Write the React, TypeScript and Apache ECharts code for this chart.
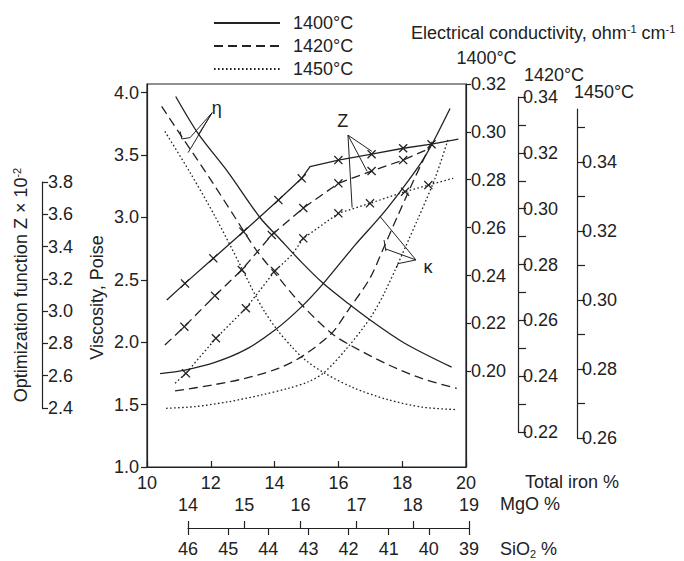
import React, { useEffect, useRef } from 'react';
import * as echarts from 'echarts';

// ---------- data ----------
// Viscosity eta (Poise) vs total iron %
const eta1400 = [[10.9, 3.97], [11.61, 3.67], [12.55, 3.36], [13.54, 3.0], [14.12, 2.84], [14.85, 2.64], [15.53, 2.47], [16.31, 2.31], [17.04, 2.17], [18.09, 1.99], [19.55, 1.8]];
const eta1420 = [[10.46, 3.89], [11.19, 3.61], [12.03, 3.29], [12.76, 3.0], [13.42, 2.74], [14.12, 2.52], [14.85, 2.3], [15.79, 2.07], [16.42, 1.97], [17.56, 1.82], [18.61, 1.71], [19.71, 1.63]];
const eta1450 = [[10.56, 3.69], [11.35, 3.36], [12.13, 3.01], [12.92, 2.62], [13.39, 2.38], [13.7, 2.24], [14.11, 2.09], [14.55, 1.96], [14.95, 1.86], [15.58, 1.75], [16.52, 1.63], [17.55, 1.54], [18.62, 1.48], [19.72, 1.46]];

// Electrical conductivity kappa (ohm^-1 cm^-1), each on its own temperature scale
const kappa1400 = [[10.41, 0.199], [11.19, 0.2005], [12.13, 0.2037], [13.07, 0.2089], [14.01, 0.2172], [14.85, 0.227], [15.53, 0.2367], [16.52, 0.2527], [17.36, 0.2653], [18.09, 0.2778], [18.61, 0.2875], [18.92, 0.2945], [19.5, 0.3098]];
const kappa1420 = [[10.88, 0.2347], [12.03, 0.2368], [13.07, 0.2392], [14.12, 0.2428], [14.85, 0.247], [15.79, 0.2554], [16.31, 0.2637], [16.99, 0.2751], [17.43, 0.2863], [17.87, 0.2977], [18.31, 0.3089], [18.75, 0.3196], [19.0, 0.3253]];
const kappa1450 = [[10.6, 0.2686], [11.5, 0.2691], [12.55, 0.2705], [13.6, 0.2725], [14.43, 0.2744], [15.06, 0.2763], [15.58, 0.2792], [16.31, 0.2865], [16.99, 0.2947], [17.46, 0.3024], [18.5, 0.3237], [19.03, 0.3353], [19.45, 0.3469]];

// Optimization function Z x 10^-2 : [iron %, Z, measured point (1) or not (0)]
const z1400 = [[10.62, 3.069, 0], [11.19, 3.172, 1], [12.08, 3.327, 1], [13.02, 3.492, 1], [14.12, 3.688, 1], [14.85, 3.823, 1], [15.11, 3.895, 0], [16.0, 3.936, 1], [17.04, 3.972, 1], [18.03, 4.009, 1], [18.92, 4.034, 1], [19.76, 4.065, 0]];
const z1420 = [[10.56, 2.79, 0], [11.17, 2.904, 1], [12.13, 3.096, 1], [12.97, 3.255, 1], [13.91, 3.472, 1], [14.9, 3.639, 1], [16.0, 3.792, 1], [17.04, 3.868, 1], [18.03, 3.936, 1], [18.81, 4.004, 0]];
const z1450 = [[10.88, 2.553, 0], [11.22, 2.615, 1], [12.16, 2.832, 1], [13.1, 3.018, 1], [14.01, 3.249, 1], [14.54, 3.348, 0], [14.9, 3.451, 1], [16.0, 3.606, 1], [16.99, 3.668, 1], [18.09, 3.74, 1], [18.82, 3.781, 1], [19.6, 3.823, 0]];

// Tick values / labels
const temps = ['1400°C', '1420°C', '1450°C'];
const ironTicks = [10, 12, 14, 16, 18, 20];
const mgoTicks = [14, 15, 16, 17, 18, 19];
const sio2Ticks = [46, 45, 44, 43, 42, 41, 40, 39];
const viscosityTicks = [1.0, 1.5, 2.0, 2.5, 3.0, 3.5, 4.0];
const zTicks = [2.4, 2.6, 2.8, 3.0, 3.2, 3.4, 3.6, 3.8];
const k1400Ticks = [0.2, 0.22, 0.24, 0.26, 0.28, 0.3, 0.32];
const k1420Ticks = [0.22, 0.23, 0.24, 0.25, 0.26, 0.27, 0.28, 0.29, 0.3, 0.31, 0.32, 0.33, 0.34];
const k1420Labels = [0.22, 0.24, 0.26, 0.28, 0.3, 0.32, 0.34];
const k1450Ticks = [0.26, 0.27, 0.28, 0.29, 0.3, 0.31, 0.32, 0.33, 0.34, 0.35];
const k1450Labels = [0.26, 0.28, 0.3, 0.32, 0.34];

// Annotation anchors in (iron %, viscosity) data coordinates
const etaLabel = [12.19, 3.88];
const etaApex = [12.04, 3.84];
const etaEnds = [[11.6, 3.66], [11.35, 3.64], [11.29, 3.52]];
const etaHook = [[11.04, 3.69], [11.09, 3.63], [11.35, 3.64]];
const zLabel = [16.14, 3.77];
const zApex = [16.3, 3.66];
const zEnds = [[17.05, 3.53], [16.9, 3.37], [16.43, 3.08]];
const kLabel = [18.81, 2.6];
const kApex = [18.43, 2.66];
const kEnds = [[17.3, 3.01], [17.46, 2.75], [17.87, 2.63]];
const kTick1 = [[17.43, 2.82], [17.49, 2.73]];
const kTick2 = [[17.87, 2.63], [17.82, 2.595]];

// ---------- styling ----------
const INK = '#222';
const FONT = "'Liberation Sans', Arial, Helvetica, sans-serif";
const FS = 18;
const XSYM = 'path://M0,1L1,0L5,4L9,0L10,1L6,5L10,9L9,10L5,6L1,10L0,9L4,5Z';
const dashStyles: any[] = ['solid', [9, 5], [1.6, 2.4]];

const lbl = (extra: any = {}) => ({ color: INK, fontFamily: FONT, fontSize: FS, ...extra });
const axLine = { show: true, lineStyle: { color: INK, width: 1.2 } };

// main grid pixel frame
const G = { left: 147, top: 84, width: 319, height: 383 };
// visible side scales (pixel frames)
const G1420 = { top: 97, height: 335, x: 519 };
const G1450 = { top: 109, height: 329, x: 578 };
const GZ = { top: 182, height: 226, x: 43 };

// hidden data-axis extents matched to the visible side scales
const k1420PerPx = (0.34 - 0.22) / G1420.height;
const k1420Max = 0.34 + (G1420.top - G.top) * k1420PerPx;
const k1420Min = 0.22 - (G.top + G.height - (G1420.top + G1420.height)) * k1420PerPx;
const k1450PerPx = (0.34 - 0.26) / (G1450.top + G1450.height - 162);
const k1450Max = 0.26 + (G1450.top + G1450.height - G.top) * k1450PerPx;
const k1450Min = 0.26 - (G.top + G.height - (G1450.top + G1450.height)) * k1450PerPx;
const k1450VisMax = 0.26 + G1450.height * k1450PerPx;
const zPerPx = (3.8 - 2.4) / GZ.height;
const zMax = 3.8 + (GZ.top - G.top) * zPerPx;
const zMin = 2.4 - (G.top + G.height - (GZ.top + GZ.height)) * zPerPx;

function lineSeries(name: string, idx: number, data: number[][], yAxisIndex: number) {
  return {
    type: 'line', name, xAxisIndex: 0, yAxisIndex, silent: true,
    data, smooth: 0.3,
    symbol: 'none', showSymbol: false,
    lineStyle: { color: INK, width: 1.3, type: dashStyles[idx] },
    itemStyle: { color: INK }, emphasis: { disabled: true },
  };
}
function zSeries(name: string, idx: number, data: number[][]) {
  return {
    type: 'line', name, xAxisIndex: 0, yAxisIndex: 4, silent: true,
    data: data.map(([x, y, m]) => ({ value: [x, y], symbol: m ? XSYM : 'none', symbolSize: 9 })),
    showSymbol: true, smooth: false,
    lineStyle: { color: INK, width: 1.3, type: dashStyles[idx] },
    itemStyle: { color: INK }, emphasis: { disabled: true },
  };
}

export default function App() {
  const ref = useRef<HTMLDivElement>(null);
  useEffect(() => {
    document.body.style.margin = '0';
    const chart = echarts.init(ref.current!, null, { renderer: 'svg' });
    const option: any = {
      animation: false,
      backgroundColor: '#fff',
      textStyle: { fontFamily: FONT },
      title: {
        text: '{a|Electrical conductivity, ohm}{s|-1}{a| cm}{s|-1}',
        left: 411, top: 23, padding: 0,
        textStyle: {
          fontWeight: 'normal',
          rich: {
            a: { fontSize: FS, fontFamily: FONT, color: INK, fontWeight: 'normal', lineHeight: 20 },
            s: { fontSize: 11, fontFamily: FONT, color: INK, verticalAlign: 'top', lineHeight: 12 },
          },
        },
      },
      legend: {
        data: temps, orient: 'vertical', left: 213, top: 14, padding: 0,
        itemWidth: 66, itemHeight: 14, itemGap: 5, selectedMode: false,
        itemStyle: { color: 'rgba(0,0,0,0)', borderWidth: 0, opacity: 0 },
        textStyle: lbl({ lineHeight: 18, padding: [0, 0, 0, 8] }),
      },
      grid: [
        { left: G.left, top: G.top, width: G.width, height: G.height, show: true, borderColor: INK, borderWidth: 1.2, backgroundColor: 'transparent' },
        { left: 188, top: 527, width: 281, height: 1 },
        { left: G1420.x - 1, top: G1420.top, width: 1, height: G1420.height },
        { left: G1450.x - 1, top: G1450.top, width: 1, height: G1450.height },
        { left: GZ.x - 1, top: GZ.top, width: 1, height: GZ.height },
      ],
      xAxis: [
        {
          gridIndex: 0, type: 'value', min: 10, max: 20, interval: 2,
          axisLine: axLine, splitLine: { show: false },
          axisTick: { inside: true, length: 6, lineStyle: { color: INK, width: 1.2 }, customValues: ironTicks },
          axisLabel: lbl({ margin: 7, customValues: ironTicks }),
          name: 'Total iron %', nameLocation: 'end', nameGap: 59, nameMoveOverlap: false,
          nameTextStyle: lbl({ align: 'left', verticalAlign: 'top', padding: [6, 0, 0, 0] }),
        },
        { gridIndex: 2, type: 'value', show: false, min: 0, max: 1 },
        { gridIndex: 3, type: 'value', show: false, min: 0, max: 1 },
        { gridIndex: 4, type: 'value', show: false, min: 0, max: 1 },
        {
          gridIndex: 1, type: 'value', position: 'top', min: 14, max: 19, interval: 1,
          axisLine: axLine, splitLine: { show: false },
          axisTick: { length: 7, lineStyle: { color: INK, width: 1.2 }, customValues: mgoTicks },
          axisLabel: lbl({ margin: 13, customValues: mgoTicks }),
          name: 'MgO %', nameLocation: 'end', nameGap: 31, nameMoveOverlap: false,
          nameTextStyle: lbl({ align: 'left', verticalAlign: 'bottom', padding: [0, 0, 15, 0] }),
        },
        {
          gridIndex: 1, type: 'value', position: 'bottom', min: 39, max: 46, inverse: true,
          axisLine: { show: false }, splitLine: { show: false },
          axisTick: { length: 7, lineStyle: { color: INK, width: 1.2 }, customValues: sio2Ticks },
          axisLabel: lbl({ margin: 12, customValues: sio2Ticks }),
          name: '{a|SiO}{b|2}{a| %}', nameLocation: 'start', nameGap: 31, nameMoveOverlap: false,
          nameTextStyle: lbl({
            align: 'left', verticalAlign: 'top', padding: [11, 0, 0, 0],
            rich: {
              a: { fontSize: FS, fontFamily: FONT, color: INK, lineHeight: 20 },
              b: { fontSize: 11, fontFamily: FONT, color: INK, verticalAlign: 'bottom', lineHeight: 14 },
            },
          }),
        },
      ],
      yAxis: [
        {
          gridIndex: 0, type: 'value', position: 'left', min: 1, max: 4.07,
          axisLine: axLine, splitLine: { show: false },
          axisTick: { length: 6, lineStyle: { color: INK, width: 1.2 }, customValues: viscosityTicks },
          axisLabel: lbl({ margin: 8, customValues: viscosityTicks, formatter: (v: number) => v.toFixed(1) }),
          name: 'Viscosity, Poise', nameLocation: 'middle', nameRotate: 90, nameGap: 41, nameMoveOverlap: false,
          nameTextStyle: lbl({ padding: [0, 44, 0, 0] }),
        },
        {
          gridIndex: 0, type: 'value', position: 'right', min: 0.16, max: 0.32,
          axisLine: axLine, splitLine: { show: false },
          axisTick: { length: 5, lineStyle: { color: INK, width: 1.2 }, customValues: k1400Ticks },
          axisLabel: lbl({ margin: 5, customValues: k1400Ticks, formatter: (v: number) => v.toFixed(2) }),
          name: '1400°C', nameLocation: 'end', nameGap: 17, nameMoveOverlap: false,
          nameTextStyle: lbl({ padding: [0, 0, 0, 41] }),
        },
        { gridIndex: 0, type: 'value', show: false, min: k1420Min, max: k1420Max },
        { gridIndex: 0, type: 'value', show: false, min: k1450Min, max: k1450Max },
        { gridIndex: 0, type: 'value', show: false, min: zMin, max: zMax },
        {
          gridIndex: 2, type: 'value', position: 'right', min: 0.22, max: 0.34,
          axisLine: axLine, splitLine: { show: false },
          axisTick: { length: 8, lineStyle: { color: INK, width: 1.2 }, customValues: k1420Ticks },
          axisLabel: lbl({ margin: 4, customValues: k1420Labels, formatter: (v: number) => v.toFixed(2) }),
          name: '1420°C', nameLocation: 'end', nameGap: 13, nameMoveOverlap: false,
          nameTextStyle: lbl({ padding: [0, 0, 0, 72] }),
        },
        {
          gridIndex: 3, type: 'value', position: 'right', min: 0.26, max: k1450VisMax,
          axisLine: axLine, splitLine: { show: false },
          axisTick: { length: 8, lineStyle: { color: INK, width: 1.2 }, customValues: k1450Ticks },
          axisLabel: lbl({ margin: 4, customValues: k1450Labels, formatter: (v: number) => v.toFixed(2) }),
          name: '1450°C', nameLocation: 'end', nameGap: 8, nameMoveOverlap: false,
          nameTextStyle: lbl({ padding: [0, 0, 0, 54] }),
        },
        {
          gridIndex: 4, type: 'value', position: 'right', min: 2.4, max: 3.8,
          axisLine: axLine, splitLine: { show: false },
          axisTick: { length: 6, lineStyle: { color: INK, width: 1.2 }, customValues: zTicks },
          axisLabel: lbl({ margin: 5, customValues: zTicks, formatter: (v: number) => v.toFixed(1) }),
          name: '{a|Optimization function Z × 10}{s|-2}', nameLocation: 'middle', nameRotate: 90, nameGap: -32, nameMoveOverlap: false,
          nameTextStyle: lbl({
            padding: [0, 0, 0, 20],
            rich: {
              a: { fontSize: FS, fontFamily: FONT, color: INK, lineHeight: 20 },
              s: { fontSize: 11, fontFamily: FONT, color: INK, verticalAlign: 'top', lineHeight: 12 },
            },
          }),
        },
        { gridIndex: 1, type: 'value', show: false, min: 0, max: 1 },
      ],
      series: [
        lineSeries(temps[0], 0, eta1400, 0),
        lineSeries(temps[1], 1, eta1420, 0),
        lineSeries(temps[2], 2, eta1450, 0),
        lineSeries(temps[0], 0, kappa1400, 1),
        lineSeries(temps[1], 1, kappa1420, 2),
        lineSeries(temps[2], 2, kappa1450, 3),
        zSeries(temps[0], 0, z1400),
        zSeries(temps[1], 1, z1420),
        zSeries(temps[2], 2, z1450),
      ],
    };
    chart.setOption(option);

    const P = (p: number[]) => chart.convertToPixel({ seriesIndex: 0 }, p) as number[];
    const seg = (a: number[], b: number[]) => {
      const pa = P(a), pb = P(b);
      return { type: 'line', silent: true, shape: { x1: pa[0], y1: pa[1], x2: pb[0], y2: pb[1] }, style: { stroke: INK, lineWidth: 1 } };
    };
    const poly = (pts: number[][]) => ({ type: 'polyline', silent: true, shape: { points: pts.map(P) }, style: { stroke: INK, lineWidth: 1, fill: null } });
    const txt = (t: string, p: number[]) => {
      const q = P(p);
      return { type: 'text', silent: true, x: q[0], y: q[1], style: { text: t, fill: INK, font: `${FS}px ${FONT}`, align: 'center', verticalAlign: 'middle' } };
    };
    const graphic: any[] = [
      txt('η', etaLabel), ...etaEnds.map((e) => seg(etaApex, e)), poly(etaHook),
      txt('Z', zLabel), ...zEnds.map((e) => seg(zApex, e)),
      txt('κ', kLabel), ...kEnds.map((e) => seg(kApex, e)), poly(kTick1), poly(kTick2),
    ];
    chart.setOption({ graphic });
    return () => chart.dispose();
  }, []);
  return <div ref={ref} style={{ position: 'absolute', left: 0, top: 0, width: 684, height: 561 }} />;
}
